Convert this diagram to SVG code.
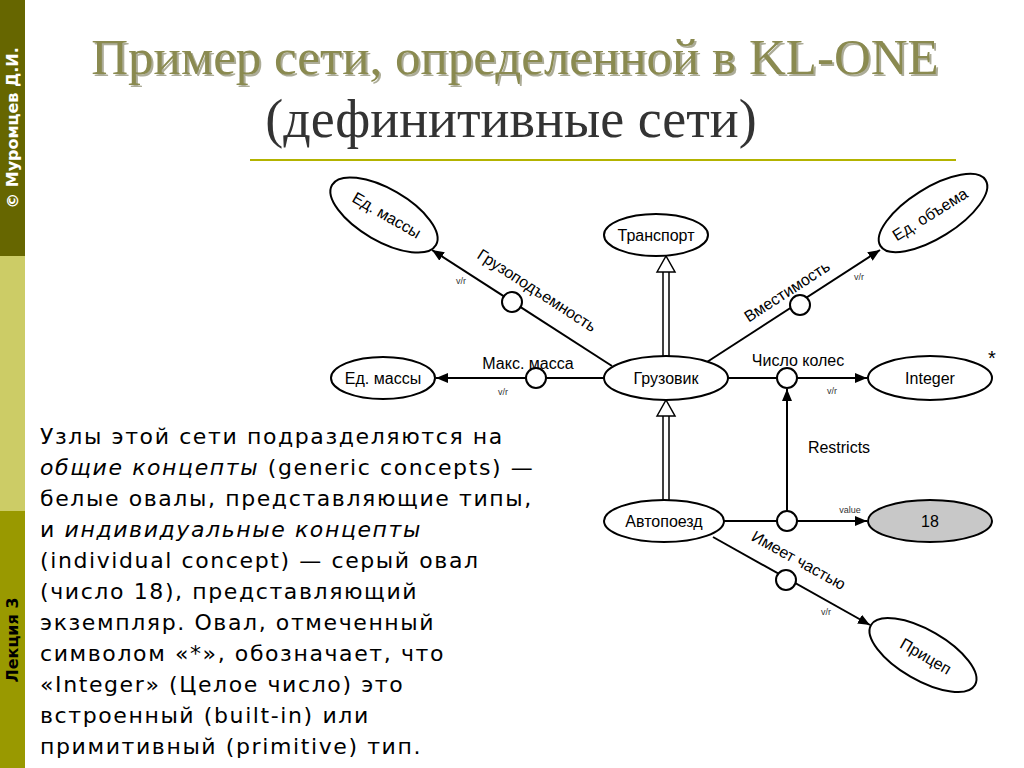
<svg xmlns="http://www.w3.org/2000/svg" width="1024" height="768" viewBox="0 0 1024 768">
<style>
.n{fill:#fff;stroke:#000;stroke-width:2}
.l{fill:none;stroke:#000;stroke-width:2}
.t{font-family:"Liberation Sans",Arial,sans-serif;font-size:16px;fill:#000;text-anchor:middle}
.s{font-family:"Liberation Sans",Arial,sans-serif;font-size:9px;fill:#333;text-anchor:middle}
.b{font-family:"DejaVu Sans",sans-serif;font-size:22px;letter-spacing:1.6px;fill:#000}
.side{font-family:"DejaVu Sans",sans-serif;font-size:16px;font-weight:bold}
</style>
<defs>
<marker id="a" viewBox="0 0 12 10" refX="12" refY="5" markerWidth="12" markerHeight="10" markerUnits="userSpaceOnUse" orient="auto"><path d="M0,0L12,5L0,10Z" fill="#000"/></marker>
</defs>
<rect width="1024" height="768" fill="#fff"/>
<rect x="0" y="0" width="25" height="256" fill="#666600"/>
<rect x="0" y="256" width="25" height="255" fill="#cccc66"/>
<rect x="0" y="511" width="25" height="257" fill="#999900"/>
<text class="side" transform="translate(18,128) rotate(-90)" text-anchor="middle" fill="#fff">© Муромцев Д.И.</text>
<text class="side" transform="translate(18,640) rotate(-90)" text-anchor="middle" fill="#000">Лекция 3</text>
<text x="517" y="76" font-family="Liberation Serif,serif" font-size="51" text-anchor="middle" fill="#333300" opacity="0.4">Пример сети, определенной в KL-ONE</text>
<text x="515" y="74" font-family="Liberation Serif,serif" font-size="51" text-anchor="middle" fill="#8a8a50">Пример сети, определенной в KL-ONE</text>
<text x="511" y="137" font-family="Liberation Serif,serif" font-size="54" text-anchor="middle" fill="#333">(дефинитивные сети)</text>
<line x1="250" y1="160" x2="956" y2="160" stroke="#b3b300" stroke-width="2"/>
<g id="connectors">
<line class="l" x1="612" y1="366" x2="432" y2="250" marker-end="url(#a)"/>
<line class="l" x1="604" y1="378" x2="436" y2="378" marker-end="url(#a)"/>
<line class="l" x1="707" y1="362" x2="880" y2="250" marker-end="url(#a)"/>
<line class="l" x1="728" y1="378" x2="867" y2="378" marker-end="url(#a)"/>
<line class="l" x1="787" y1="511" x2="787" y2="389" marker-end="url(#a)"/>
<line class="l" x1="724" y1="521" x2="867" y2="521" marker-end="url(#a)"/>
<line class="l" x1="713" y1="537" x2="870" y2="625" marker-end="url(#a)"/>
<path d="M663,356V272M669,356V272M657,272L666,256L675,272Z" fill="#fff" stroke="#000" stroke-width="1.5"/>
<path d="M663,500V416M669,500V416M657,416L666,400L675,416Z" fill="#fff" stroke="#000" stroke-width="1.5"/>
<circle class="n" cx="512" cy="302" r="10"/>
<circle class="n" cx="536" cy="378" r="10"/>
<circle class="n" cx="800" cy="305" r="10"/>
<circle class="n" cx="787" cy="378" r="10"/>
<circle class="n" cx="787" cy="521" r="10"/>
<circle class="n" cx="786" cy="580" r="10"/>
<text class="t" transform="translate(534,295) rotate(33)">Грузоподъемность</text>
<text class="t" x="528" y="369">Макс. масса</text>
<text class="t" transform="translate(790,296) rotate(-33)">Вместимость</text>
<text class="t" x="798" y="366">Число колес</text>
<text class="t" x="839" y="453">Restricts</text>
<text class="t" transform="translate(796,565) rotate(29)">Имеет частью</text>
<text class="s" x="461" y="284">v/r</text>
<text class="s" x="503" y="395">v/r</text>
<text class="s" x="859" y="280">v/r</text>
<text class="s" x="832" y="394">v/r</text>
<text class="s" x="850" y="513">value</text>
<text class="s" x="826" y="615">v/r</text>
</g>
<g id="n1"><ellipse class="n" transform="translate(384,215) rotate(30)" rx="60" ry="26"/><text class="t" transform="translate(384,220) rotate(30)">Ед. массы</text></g>
<g id="n2"><ellipse class="n" cx="656" cy="235" rx="52" ry="21"/><text class="t" x="656" y="241">Транспорт</text></g>
<g id="n3"><ellipse class="n" transform="translate(933,213) rotate(-32)" rx="62" ry="25"/><text class="t" transform="translate(933,219) rotate(-32)">Ед. объема</text></g>
<g id="n4"><ellipse class="n" cx="383" cy="378" rx="52" ry="21"/><text class="t" x="383" y="384">Ед. массы</text></g>
<g id="n5"><ellipse class="n" cx="666" cy="378" rx="62" ry="22"/><text class="t" x="666" y="384">Грузовик</text></g>
<g id="n6"><ellipse class="n" cx="930" cy="378" rx="62" ry="22"/><text class="t" x="930" y="384">Integer</text></g>
<text x="992" y="365" font-family="Liberation Sans,sans-serif" font-size="20" text-anchor="middle">*</text>
<g id="n7"><ellipse class="n" cx="664" cy="521" rx="60" ry="21"/><text class="t" x="664" y="527">Автопоезд</text></g>
<g id="n8"><ellipse class="n" cx="930" cy="521" rx="62" ry="21" style="fill:#c8c8c8"/><text class="t" x="930" y="527">18</text></g>
<g id="n9"><ellipse class="n" transform="translate(923,655) rotate(30)" rx="60" ry="25"/><text class="t" transform="translate(923,661) rotate(30)">Прицеп</text></g>
<g id="text">
<text class="b" x="40" y="444">Узлы этой сети подразделяются на</text>
<text class="b" x="40" y="475"><tspan font-style="italic">общие концепты</tspan> (generic concepts) —</text>
<text class="b" x="40" y="506">белые овалы, представляющие типы,</text>
<text class="b" x="40" y="537">и <tspan font-style="italic">индивидуальные концепты</tspan></text>
<text class="b" x="40" y="568">(individual concept) — серый овал</text>
<text class="b" x="40" y="599">(число 18), представляющий</text>
<text class="b" x="40" y="630">экземпляр. Овал, отмеченный</text>
<text class="b" x="40" y="661">символом «*», обозначает, что</text>
<text class="b" x="40" y="692">«Integer» (Целое число) это</text>
<text class="b" x="40" y="723">встроенный (built-in) или</text>
<text class="b" x="40" y="754">примитивный (primitive) тип.</text>
</g>
</svg>
